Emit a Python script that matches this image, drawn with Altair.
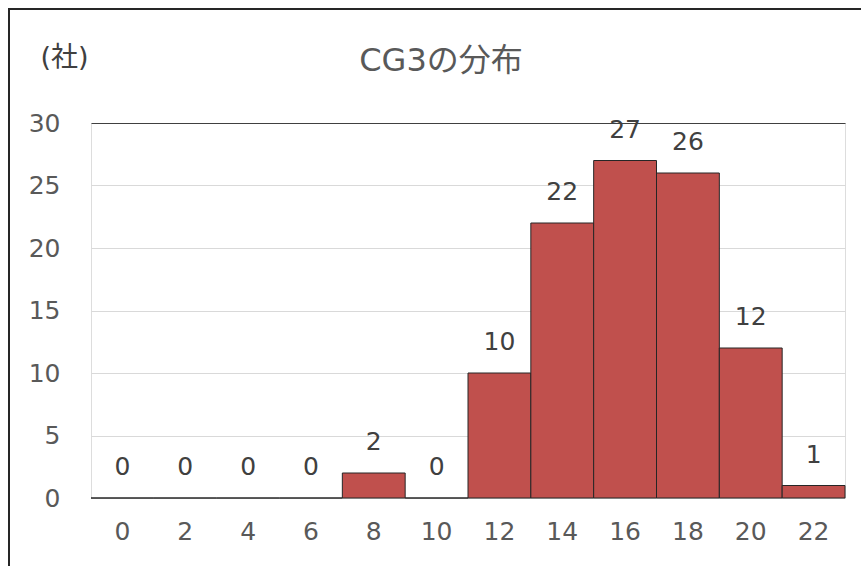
import altair as alt
import pandas as pd

categories = ["0", "2", "4", "6", "8", "10", "12", "14", "16", "18", "20", "22"]
counts = [0, 0, 0, 0, 2, 0, 10, 22, 27, 26, 12, 1]
y_ticks = [0, 5, 10, 15, 20, 25, 30]

df = pd.DataFrame({"cat": categories, "n": counts})

FONT = "DejaVu Sans, Noto Sans CJK JP"
GRAY = "#595959"

x_enc = alt.X("cat:N", sort=categories,
              scale=alt.Scale(paddingInner=0, paddingOuter=0),
              axis=alt.Axis(title=None, labelAngle=0, ticks=False, domain=False,
                            labelPadding=21, labelFontSize=25, labelColor=GRAY,
                            labelFont=FONT))
y_enc = alt.Y("n:Q", scale=alt.Scale(domain=[0, 30]),
              axis=alt.Axis(values=y_ticks, title="(社)", titleAngle=0,
                            titleX=-27, titleY=-66, titleAlign="center",
                            titleBaseline="middle", titleFontSize=27,
                            titleFontWeight="normal", titleColor="#404040",
                            titleFont=FONT,
                            ticks=False, domain=False, labelPadding=31,
                            labelFontSize=25, labelColor=GRAY, labelFont=FONT,
                            gridColor={"condition": {"test": "datum.value === 30", "value": "#404040"},
                                       "value": "#D9D9D9"},
                            gridWidth=1))

bars = alt.Chart(df).mark_bar(color="#C0504D", stroke="#262626", strokeWidth=1).encode(
    x=x_enc, y=y_enc)

labels = alt.Chart(df).mark_text(baseline="alphabetic", dy=-23, fontSize=25,
                                  color="#404040", font=FONT).encode(
    x=alt.X("cat:N", sort=categories), y="n:Q", text="n:Q")

border = alt.Chart(df).mark_rect(fill=None, stroke="#262626", strokeWidth=2).encode(
    x=alt.value(-82), x2=alt.value(800), y=alt.value(-114), y2=alt.value(500))

chart = alt.layer(border, bars, labels).properties(
    width=754, height=375,
    title=alt.TitleParams("CG3の分布", fontSize=32, fontWeight="normal", color=GRAY,
                          font=FONT, anchor="middle", dx=-27, offset=0, dy=70),
    autosize=alt.AutoSizeParams(type="none"),
    padding={"left": 91, "top": 123, "right": 16, "bottom": 68},
).configure_view(stroke="#404040", strokeWidth=1).configure(background="white")

chart.save("out.html", embed_options={"renderer": "svg", "actions": False})
